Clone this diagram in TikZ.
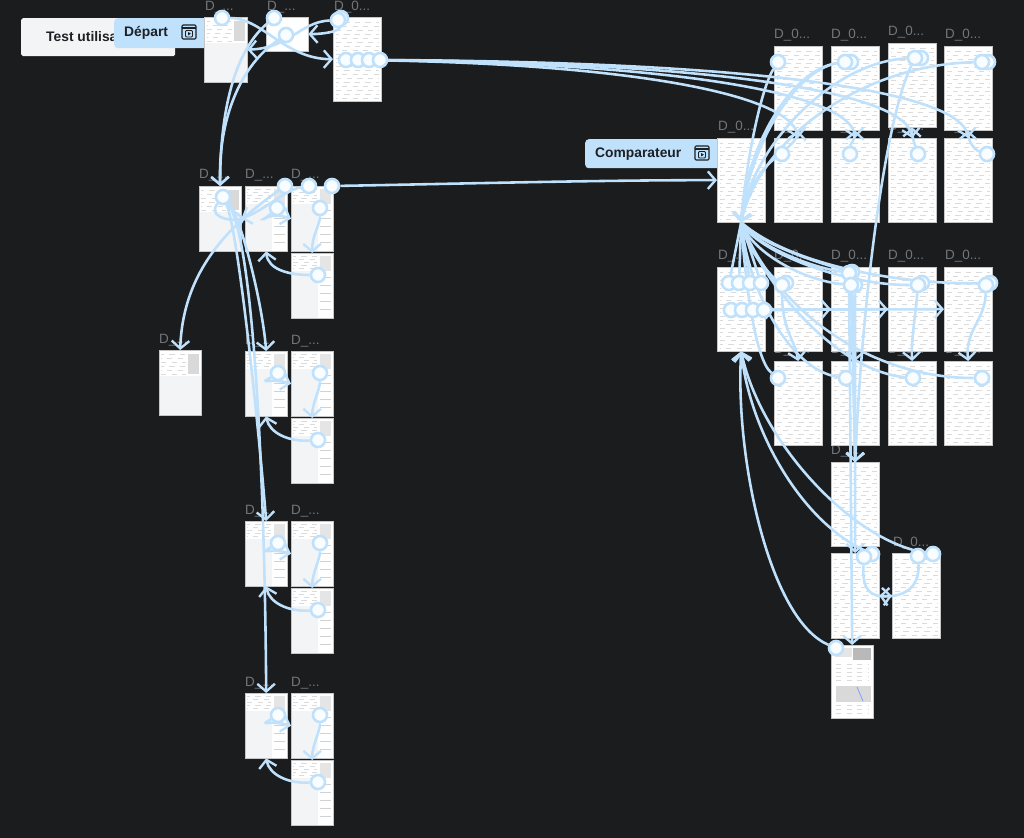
\documentclass[tikz,border=0pt]{standalone}
\usepackage{fontspec}
\setmainfont{Liberation Sans}
\usetikzlibrary{arrows.meta,calc}
\definecolor{canvas}{HTML}{1B1C1E}
\definecolor{wire}{HTML}{BFE1FB}
\definecolor{tagink}{HTML}{1D2024}
\definecolor{titleink}{HTML}{72767A}
\definecolor{sheet}{HTML}{F3F4F6}
\pgfdeclarelayer{back}
\pgfdeclarelayer{wires}
\pgfsetlayers{back,wires,main}
\newcommand{\shortd}{D\_...}
\newcommand{\longd}{D\_0...}
\tikzset{
  rowline/.style={gray!28, line width=0.3pt, dash pattern=on 4.5pt off 4.5pt},
  % path picture coordinates are measured from the frame centre
  tall/.style={rectangle, anchor=north west, inner sep=0pt, fill=white, draw=gray!45, line width=0.3pt,
    minimum width=1.44cm, minimum height=2.52cm,
    path picture={
      \foreach \ry [count=\rn] in {-37,-33,...,40} \draw[rowline, dash phase={mod(\rn,3)*2pt}] (-21,\ry) -- (22,\ry);
      }},
  panel/.style={rectangle, anchor=north west, inner sep=0pt, fill=sheet, draw=gray!45, line width=0.3pt,
    minimum width=1.26cm, minimum height=1.95cm,
    path picture={
      \fill[white] (-21,-32.5) rectangle (21,-6.5);
      \fill[gray!30] (8,-28.5) rectangle (19,-8.5);
      \foreach \ry [count=\rn] in {-28.5,-24.5,...,-8} \draw[rowline, dash phase={mod(\rn,3)*2pt}] (-19,\ry) -- (6,\ry);
      }},
  sidepanel/.style={rectangle, anchor=north west, inner sep=0pt, fill=sheet, draw=gray!45, line width=0.3pt,
    minimum width=1.26cm, minimum height=1.95cm,
    path picture={
      \fill[white] (-21,-32.5) rectangle (6,-14.5);
      \fill[white] (6,-32.5) rectangle (21,32.5);
      \fill[gray!20] (8,-29.5) rectangle (19,-14.5);
      \foreach \ry [count=\rn] in {-29.5,-26.5,...,-17} \draw[rowline, dash phase={mod(\rn,3)*2pt}] (-19,\ry) -- (5,\ry);
      \foreach \ry in {-8.5,-0.5,...,28} \draw[gray!35, line width=0.35pt] (8,\ry) -- (19,\ry);
      }},
  popin/.style={rectangle, anchor=north west, inner sep=0pt, fill=white, draw=gray!45, line width=0.3pt,
    minimum width=1.26cm, minimum height=1.02cm},
  frmtitle/.style={anchor=base west, inner sep=0pt, text=titleink, font=\fontsize{11.5}{12}\selectfont},
  tagbox/.style={rectangle, rounded corners=3pt, fill=wire, text=tagink, inner sep=0pt, anchor=north west},
  tagtext/.style={anchor=west, inner sep=0pt, text=tagink, font=\fontsize{11.8}{12}\selectfont\bfseries},
  spot/.style={circle, draw=wire, line width=2.2pt, fill=white!92!wire, inner sep=0pt, minimum size=12pt},
  link/.style={draw=wire, line width=2.2pt, -{Straight Barb[length=6.5pt,width=15pt,line width=2pt]}},
  nolink/.style={draw=wire, line width=2.2pt},
}
\newcommand{\runicon}[2]{
  \draw[tagink, line width=0.9pt, rounded corners=1pt] (#1,#2) rectangle ++(14,14);
  \draw[tagink, line width=0.9pt] (#1,#2+3) -- ++(14,0);
  \draw[tagink, line width=0.8pt, rounded corners=0.8pt] (#1+3.5,#2+5.5) rectangle ++(7,6.5);
  \fill[tagink] (#1+6,#2+7) -- ++(3,1.7) -- ++(-3,1.7) -- cycle;
}
\begin{document}
\begin{tikzpicture}[x=0.03cm, y=-0.03cm]
  \useasboundingbox (0,0) rectangle (1024,838);

  \begin{pgfonlayer}{back}
    \fill[canvas] (0,0) rectangle (1024,838);

    % Start note and start tag
    \node[rectangle, rounded corners=1.5pt, anchor=north west, fill=sheet, minimum width=4.62cm, minimum height=1.14cm] (note) at (21,18) {};
    \node[tagtext] (notetext) at (46,37) {Test utilisa};
    \node[tagbox, minimum width=2.85cm, minimum height=0.9cm] (departbox) at (114,18) {};
    \node[tagtext] (departtext) at (124,33) {Départ};
    \node[tagbox, minimum width=4.05cm, minimum height=0.87cm] (compbox) at (585,139) {};
    \node[tagtext] (comptext) at (595,154) {Comparateur};

    % Frame titles
    \foreach \tx/\ty/\lbl in {205/10/\shortd, 267/10/\shortd, 334/10/\longd, 199/178/\shortd, 245/178/\shortd, 291/178/\shortd,
      159/343/\shortd, 245/344/\shortd, 291/344/\shortd, 245/514/\shortd, 291/514/\shortd, 245/686/\shortd, 291/686/\shortd,
      774/38/\longd, 831/38/\longd, 888/35/\longd, 945/38/\longd, 718/130/\longd, 774/130/\longd, 831/130/\longd, 888/130/\longd, 945/130/\longd,
      718/259/\shortd, 774/259/\longd, 831/259/\longd, 888/259/\longd, 945/259/\longd, 774/353/\longd, 831/353/\longd, 888/353/\longd, 945/353/\longd,
      831/454/\shortd, 893/546/\longd}
      \node[frmtitle] (ttl-\tx-\ty) at (\tx,\ty) {\lbl};

    % Left frames
    \node[panel, minimum width=1.29cm] (acc) at (204,17) {};
    \node[popin] (pop) at (266,17) {};
    \node[tall] (tab) at (333,17) {};
    \node[panel] (a) at (199,186) {};
    \node[sidepanel] (b) at (245,186) {};
    \node[sidepanel] (c) at (291,186) {};
    \node[sidepanel] (d) at (291,253) {};
    \node[panel] (e) at (159,350) {};
    \foreach \gn/\gy in {p/351, q/521, k/693} {
      \node[sidepanel] (\gn a) at (245,\gy) {};
      \node[sidepanel] (\gn b) at (291,\gy) {};
      \node[sidepanel] (\gn c) at (291,\gy+67) {};
    }

    % Right frames
    \node[tall] (ra) at (774,46) {};
    \node[tall] (rb) at (831,46) {};
    \node[tall] (rc) at (888,43) {};
    \node[tall] (rd) at (944,46) {};
    \node[tall] (comp) at (717,138) {};
    \node[tall] (sa) at (774,138) {};
    \node[tall] (sb) at (831,138) {};
    \node[tall] (sc) at (888,138) {};
    \node[tall] (sd) at (944,138) {};
    \node[tall] (u) at (717,267) {};
    \node[tall] (ua) at (774,267) {};
    \node[tall] (ub) at (831,267) {};
    \node[tall] (uc) at (888,267) {};
    \node[tall] (ud) at (944,267) {};
    \node[tall] (va) at (774,361) {};
    \node[tall] (vb) at (831,361) {};
    \node[tall] (vc) at (888,361) {};
    \node[tall] (vd) at (944,361) {};
    \node[tall] (w) at (831,462) {};
    \node[tall, minimum height=2.55cm] (x) at (831,553) {};
    \node[tall, minimum height=2.55cm] (y) at (892,553) {};
    \node[rectangle, anchor=north west, fill=white, draw=gray!45, line width=0.3pt, inner sep=0pt, minimum width=1.26cm, minimum height=2.2cm] (z) at (831,645) {};

    % Last frame content
    \fill[gray!20] (835,648) rectangle (852,657);
    \fill[gray!55] (853,648) rectangle (871,660);
    \foreach \ry in {664,668,...,682} \draw[rowline] (836,\ry) -- (869,\ry);
    \fill[gray!30] (836,686) rectangle (871,702);
    \draw[wire!70!blue, line width=0.7pt] (857,687) -- (863,701);
    \foreach \ry in {705,709,713} \draw[rowline] (836,\ry) -- (869,\ry);
  \end{pgfonlayer}

  % Hotspots left
  \node[spot] (s1) at (222,18) {};
  \node[spot] (s2) at (274,18) {};
  \node[spot] (s3) at (286,35) {};
  \node[spot] (s5) at (341,18) {};
  \node[spot] (s4) at (338,20) {};
  \foreach \i/\x in {1/346, 2/358, 3/369, 4/380}
    \node[spot] (t\i) at (\x,60) {};
  \node[spot] (ap) at (223,197) {};
  \node[spot] (b1) at (285,186) {};
  \node[spot] (b2) at (277,208) {};
  \node[spot] (c1) at (309,186) {};
  \node[spot] (c2) at (332,186) {};
  \node[spot] (c3) at (320,208) {};
  \node[spot] (d1) at (318,275) {};
  \foreach \gn/\gy in {p/351, q/521, k/693} {
    \node[spot] (\gn1) at (278,\gy+22) {};
    \node[spot] (\gn2) at (320,\gy+22) {};
    \node[spot] (\gn3) at (318,\gy+89) {};
  }

  % Hotspots right
  \node[spot] (ra1) at (778,62) {};
  \node[spot] (rb2) at (851,62) {};
  \node[spot] (rb1) at (845,62) {};
  \node[spot] (rc2) at (921,58) {};
  \node[spot] (rc1) at (915,58) {};
  \node[spot] (rd2) at (988,62) {};
  \node[spot] (rd1) at (982,62) {};
  \node[spot] (sa1) at (782,154) {};
  \node[spot] (sb1) at (850,154) {};
  \node[spot] (sc1) at (918,154) {};
  \node[spot] (sd1) at (987,154) {};
  \foreach \i/\x in {1/729, 2/739, 3/750, 4/761}
    \node[spot] (ut\i) at (\x,283) {};
  \foreach \i/\x in {1/731, 2/742, 3/753, 4/764}
    \node[spot] (um\i) at (\x,310) {};
  \node[spot] (ua2) at (786,283) {};
  \node[spot] (ua1) at (782,285) {};
  \node[spot] (ub3) at (852,272) {};
  \node[spot] (ub2) at (849,273) {};
  \node[spot] (ub4) at (855,285) {};
  \node[spot] (ub1) at (851,285) {};
  \node[spot] (uc2) at (922,283) {};
  \node[spot] (uc1) at (918,285) {};
  \node[spot] (ud2) at (990,283) {};
  \node[spot] (ud1) at (986,285) {};
  \node[spot] (va1) at (778,378) {};
  \node[spot] (vb1) at (846,378) {};
  \node[spot] (vc1) at (913,378) {};
  \node[spot] (vd1) at (982,378) {};
  \node[spot] (x2) at (872,554) {};
  \node[spot] (x1) at (864,557) {};
  \node[spot] (y2) at (933,554) {};
  \node[spot] (y1) at (918,556) {};
  \node[spot] (z1) at (836,648) {};

  % Tag icons
  \runicon{182}{25}
  \runicon{695}{146}

  \begin{pgfonlayer}{wires}
    % Top left links
    \draw[link] (s1) .. controls (262,18) and (285,59) .. (tab.west);
    \draw[link] (s2) .. controls (235,50) and (220,110) .. (a.north);
    \draw[link] (s3) .. controls (240,65) and (218,120) .. (a.north);
    \draw[link] (s4) .. controls (300,22) and (290,48) .. (acc.east);
    \draw[link] (s5) .. controls (340,32) and (322,34) .. (pop.east);

    % Table to second row
    \draw[link] (t1) .. controls (600,62) and (790,90) .. (sa.north);
    \draw[link] (t2) .. controls (650,62) and (850,90) .. (sb.north);
    \draw[link] (t3) .. controls (700,62) and (905,90) .. (sc.north);
    \draw[link] (t4) .. controls (750,62) and (960,90) .. (sd.north);

    % Left panels
    \draw[link] (ap) .. controls (240,215) and (262,300) .. (pa.north);
    \draw[link] (ap) .. controls (238,230) and (258,420) .. (qa.north);
    \draw[link] (ap) .. controls (255,240) and (265,500) .. (ka.north);
    \draw[link] (ap) .. controls (208,215) and (225,222) .. (b.west);
    \draw[link] (b1) .. controls (230,225) and (183,270) .. (e.north);
    \draw[link] (b2) .. controls (255,228) and (265,210) .. (c.west);
    \draw[link] (c1) .. controls (285,190) and (265,210) .. (a.east);
    \draw[link] (c2) .. controls (450,184) and (600,180) .. (comp.west);
    \draw[link] (c3) .. controls (320,225) and (312,235) .. (d.north);
    \draw[link] (d1) .. controls (290,275) and (268,270) .. (b.south);
    \foreach \gn in {p, q, k} {
      \draw[link] (\gn1) .. controls +(-20,12) and +(-21,-6) .. (\gn b.west);
      \draw[link] (\gn2) .. controls +(0,17) and +(0,-15) .. (\gn c.north);
      \draw[link] (\gn3) .. controls +(-30,2) and +(3,16) .. (\gn a.south);
    }

    % Into the comparator
    \draw[link] (ra1) .. controls (760,90) and (745,170) .. (comp.south);
    \draw[link] (rb1) .. controls (790,70) and (745,150) .. (comp.south);
    \draw[link] (rb2) .. controls (795,65) and (748,150) .. (comp.south);
    \draw[link] (rc1) .. controls (830,62) and (750,150) .. (comp.south);
    \draw[link] (rd1) .. controls (860,65) and (760,140) .. (comp.south);
    \draw[link] (sa1) .. controls (765,165) and (745,190) .. (comp.south);
    \draw[nolink] (ut1) -- (comp.south);
    \draw[nolink] (ut2) -- (comp.south);
    \draw[nolink] (ut3) -- (comp.south);
    \draw[nolink] (ut4) -- (comp.south);
    \draw[nolink] (ua1) .. controls (765,270) and (745,245) .. (comp.south);
    \draw[nolink] (ub2) .. controls (800,265) and (750,240) .. (comp.south);
    \draw[nolink] (ub3) .. controls (800,258) and (752,238) .. (comp.south);
    \draw[nolink] (ub1) .. controls (800,280) and (750,250) .. (comp.south);
    \draw[nolink] (uc1) .. controls (840,285) and (755,250) .. (comp.south);
    \draw[nolink] (ud2) .. controls (900,285) and (790,265) .. (comp.south);
    \draw[nolink] (va1) .. controls (755,360) and (745,280) .. (comp.south);
    \draw[nolink] (vb1) .. controls (790,370) and (748,290) .. (comp.south);
    \draw[nolink] (vc1) .. controls (830,370) and (755,270) .. (comp.south);
    \draw[nolink] (vd1) .. controls (860,378) and (770,300) .. (comp.south);

    % Second row up to first row
    \draw[link] (sa1) .. controls (790,145) and (797,140) .. (ra.south);
    \draw[link] (sb1) .. controls (850,145) and (855,140) .. (rb.south);
    \draw[link] (sc1) .. controls (915,145) and (912,138) .. (rc.south);
    \draw[link] (sd1) .. controls (975,150) and (968,142) .. (rd.south);

    % Third row
    \draw[link] (um4) -- (ua.west);
    \draw[link] (um3) -- (ub.west);
    \draw[link] (um2) -- (uc.west);
    \draw[link] (um1) -- (ud.west);
    \draw[link] (ua1) .. controls (782,330) and (795,340) .. (va.north);
    \draw[link] (ub1) .. controls (851,320) and (855,340) .. (vb.north);
    \draw[link] (uc1) .. controls (915,320) and (911,340) .. (vc.north);
    \draw[link] (ud1) .. controls (985,320) and (965,330) .. (vd.north);

    % Down the middle column
    \draw[link] (ub1) -- (w.north);
    \draw[link] (ub3) -- (w.north);
    \draw[link] (ub4) -- (x.north);
    \draw[link] (ub2) -- (z.north);
    \draw[link] (rc1) .. controls (885,120) and (862,300) .. (w.north);

    % Bottom links
    \draw[link] (x2) .. controls (800,520) and (750,430) .. (u.south);
    \draw[link] (y2) .. controls (850,540) and (760,440) .. (u.south);
    \draw[link] (z1) .. controls (770,620) and (735,460) .. (u.south);
    \draw[link] (x1) .. controls (862,590) and (870,598) .. (y.west);
    \draw[link] (y1) .. controls (920,590) and (900,598) .. (x.east);
  \end{pgfonlayer}
\end{tikzpicture}
\end{document}
